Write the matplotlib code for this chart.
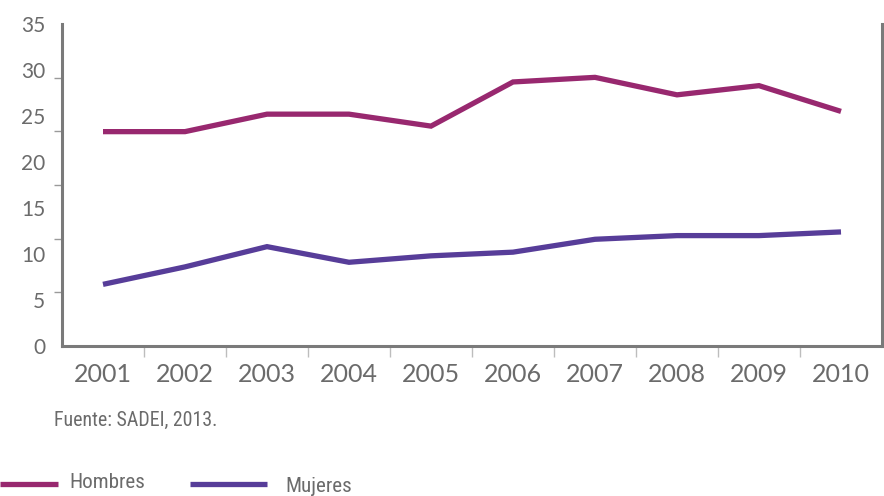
import matplotlib
matplotlib.use('Agg')
from matplotlib import pyplot as plt
from matplotlib.lines import Line2D
import numpy as np

years = ['2001', '2002', '2003', '2004', '2005', '2006', '2007', '2008', '2009', '2010']
hombres = [23.3, 23.3, 25.2, 25.2, 23.9, 28.7, 29.2, 27.3, 28.3, 25.5]
mujeres = [6.7, 8.6, 10.8, 9.1, 9.8, 10.2, 11.6, 12.0, 12.0, 12.4]
y_labels = [0, 5, 10, 15, 20, 25, 30, 35]

c_h = '#98286f'
c_m = '#573d99'
grey = '#6b6b6b'
spine_c = '#7a7a7a'
narrow = ['Liberation Sans Narrow', 'DejaVu Sans Condensed', 'Roboto Condensed', 'DejaVu Sans']

fig = plt.figure(figsize=(8.84, 4.96), dpi=100)
ax = fig.add_axes([62/884, 1-346/496, 820/884, 322/496])

x = np.arange(len(years))
ax.plot(x, hombres, color=c_h, lw=3.8, solid_capstyle='butt', solid_joinstyle='miter')
ax.plot(x, mujeres, color=c_m, lw=3.8, solid_capstyle='butt', solid_joinstyle='miter')

ax.set_xlim(-0.5, len(years) - 0.5)
ax.set_ylim(0, 35)

# labels on major ticks (no marks), marks on minor ticks
ax.set_xticks(x)
ax.set_xticklabels(years)
ax.set_yticks(y_labels)
ax.set_yticklabels([str(v) for v in y_labels])
ax.set_xticks(x[:-1] + 0.5, minor=True)
ax.set_yticks(np.linspace(0, 35, 7), minor=True)

ax.tick_params(axis='both', which='major', length=0, labelcolor=grey)
ax.tick_params(axis='x', which='major', labelsize=18, pad=12)
ax.tick_params(axis='y', which='major', labelsize=15, pad=12)
ax.tick_params(axis='x', which='minor', length=8, width=1, color='#bdbdbd', direction='out')
ax.tick_params(axis='y', which='minor', length=6, width=1, color='#9a9a9a', direction='out')
for lab in ax.get_xticklabels() + ax.get_yticklabels():
    lab.set_family(['Lato', 'DejaVu Sans'])
    lab.set_color(grey)

ax.spines['top'].set_visible(False)
for s in ['left', 'bottom', 'right']:
    ax.spines[s].set_color(spine_c)
    ax.spines[s].set_linewidth(2.2)

fig.text(54/884, 1-420/496, 'Fuente: SADEI, 2013.', fontsize=14.3, color=grey,
         family=narrow, va='center', ha='left')

# legend
fig.add_artist(Line2D([0, 58/884], [1-484/496, 1-484/496], color=c_h, lw=3.8,
                      solid_capstyle='butt'))
fig.text(69/884, 1-483/496, 'Hombres', fontsize=15.2, color=grey,
         family=narrow, va='center', ha='left')
fig.add_artist(Line2D([190/884, 267/884], [1-484/496, 1-484/496], color=c_m, lw=3.8,
                      solid_capstyle='butt'))
fig.text(285/884, 1-487/496, 'Mujeres', fontsize=15.2, color=grey,
         family=narrow, va='center', ha='left')

fig.savefig('out.png', dpi=100, facecolor='white')
